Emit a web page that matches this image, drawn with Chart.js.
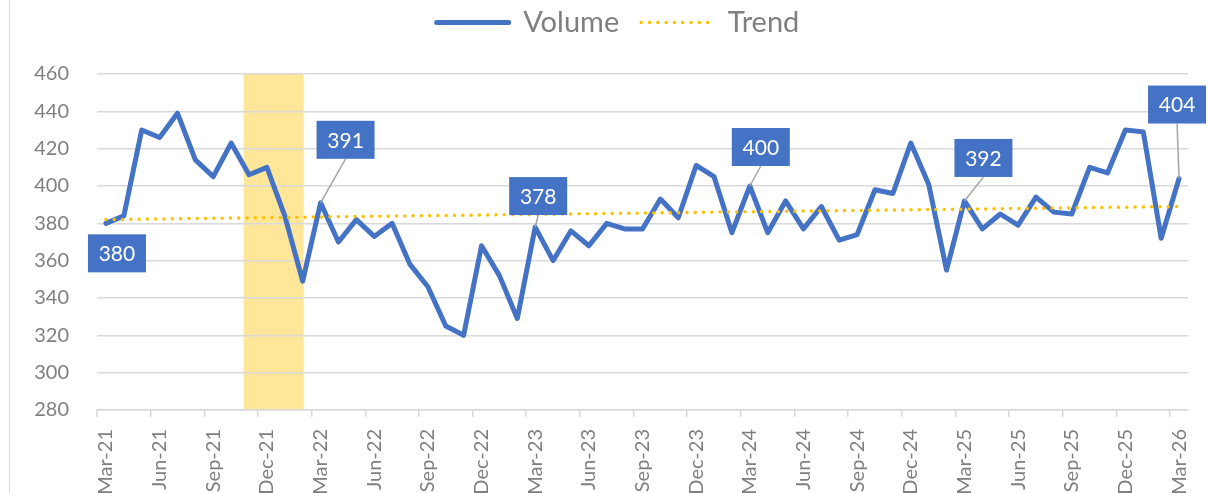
<!DOCTYPE html>
<html lang="en">
<head>
    <meta charset="UTF-8">
    <title>Volume vs Trend</title>
    <script src="https://cdn.jsdelivr.net/npm/chart.js"></script>
    <style>
        body { margin: 0; background: #fff; }
        #wrap { position: relative; width: 1209px; height: 493px; overflow: hidden; }
        /* thin frame line on the left, like the original chart border */
        #edge { position: absolute; left: 9px; top: 0; width: 1px; height: 493px; background: #d9d9d9; }
    </style>
</head>
<body>
    <div id="wrap">
        <div id="edge"></div>
        <canvas id="volChart" width="1209" height="493"></canvas>
    </div>

    <script>
        // monthly categories
        const months = [
            'Mar-21', 'Apr-21', 'May-21', 'Jun-21', 'Jul-21', 'Aug-21', 'Sep-21', 'Oct-21', 'Nov-21', 'Dec-21',
            'Jan-22', 'Feb-22', 'Mar-22', 'Apr-22', 'May-22', 'Jun-22', 'Jul-22', 'Aug-22', 'Sep-22', 'Oct-22',
            'Nov-22', 'Dec-22', 'Jan-23', 'Feb-23', 'Mar-23', 'Apr-23', 'May-23', 'Jun-23', 'Jul-23', 'Aug-23',
            'Sep-23', 'Oct-23', 'Nov-23', 'Dec-23', 'Jan-24', 'Feb-24', 'Mar-24', 'Apr-24', 'May-24', 'Jun-24',
            'Jul-24', 'Aug-24', 'Sep-24', 'Oct-24', 'Nov-24', 'Dec-24', 'Jan-25', 'Feb-25', 'Mar-25', 'Apr-25',
            'May-25', 'Jun-25', 'Jul-25', 'Aug-25', 'Sep-25', 'Oct-25', 'Nov-25', 'Dec-25', 'Jan-26', 'Feb-26',
            'Mar-26'
        ];

        const volume = [
            380, 384, 430, 426, 439, 414, 405, 423, 406, 410,
            384, 349, 391, 370, 382, 373, 380, 358, 346, 325,
            320, 368, 352, 329, 378, 360, 376, 368, 380, 377,
            377, 393, 383, 411, 405, 375, 400, 375, 392, 377,
            389, 371, 374, 398, 396, 423, 401, 355, 392, 377,
            385, 379, 394, 386, 385, 410, 407, 430, 429, 372,
            404
        ];

        // trend line end points
        const trendPoints = [
            { x: 'Mar-21', y: 382 },
            { x: 'Mar-26', y: 389 }
        ];

        // y axis
        const yMin = 280, yMax = 460, yStep = 20;

        // shaded period, in month index units
        const highlightRange = [7.7, 11.05];

        // months that carry a value callout
        const calloutMonths = ['Mar-21', 'Mar-22', 'Mar-23', 'Mar-24', 'Mar-25', 'Mar-26'];

        const BLUE = '#4472C4';
        const GOLD = '#FFC000';
        const GREY = '#7F7F7F';
        const GRID = '#D9D9D9';
        const FONT = 'Lato';

        // callout box offsets from the point (box centre), px
        const calloutOffsets = {
            'Mar-21': [11, 30],
            'Mar-22': [25, -63],
            'Mar-23': [3, -31],
            'Mar-24': [11, -39],
            'Mar-25': [19, -43],
            'Mar-26': [-2, -74]
        };

        const highlightPlugin = {
            id: 'highlight',
            beforeDraw(chart) {
                const { ctx, chartArea, scales } = chart;
                const x0 = scales.x.getPixelForValue(highlightRange[0]);
                const x1 = scales.x.getPixelForValue(highlightRange[1]);
                ctx.save();
                ctx.fillStyle = '#FFE699';
                ctx.fillRect(x0, chartArea.top, x1 - x0, chartArea.bottom - chartArea.top);
                ctx.restore();
            }
        };

        const calloutPlugin = {
            id: 'callouts',
            afterDatasetsDraw(chart) {
                const ctx = chart.ctx;
                const meta = chart.getDatasetMeta(0);
                const boxW = 58, boxH = 38;
                ctx.save();
                calloutMonths.forEach(m => {
                    const i = months.indexOf(m);
                    const pt = meta.data[i];
                    const off = calloutOffsets[m];
                    const cx = pt.x + off[0];
                    const cy = pt.y + off[1];
                    if (off[1] < 0) {
                        ctx.strokeStyle = '#A6A6A6';
                        ctx.lineWidth = 1.5;
                        ctx.beginPath();
                        ctx.moveTo(pt.x, pt.y);
                        ctx.lineTo(cx, cy + boxH / 2);
                        ctx.stroke();
                    }
                    ctx.fillStyle = BLUE;
                    ctx.fillRect(cx - boxW / 2, cy - boxH / 2, boxW, boxH);
                    ctx.fillStyle = '#FFFFFF';
                    ctx.font = '21px ' + FONT;
                    ctx.textAlign = 'center';
                    ctx.textBaseline = 'middle';
                    ctx.fillText(String(volume[i]), cx, cy + 1);
                });
                ctx.restore();
            }
        };

        // legend: fixed height so the plot starts where the original does,
        // and nudged right to sit where the original legend sits
        const legendTweak = {
            id: 'legendTweak',
            afterInit(chart) {
                const lg = chart.legend;
                const fit = lg.fit;
                lg.fit = function () {
                    fit.call(this);
                    this.height = 88;
                };
            },
            afterLayout(chart) {
                chart.legend.left = 48;
            }
        };

        const ctx = document.getElementById('volChart').getContext('2d');
        const volChart = new Chart(ctx, {
            type: 'line',
            data: {
                labels: months,
                datasets: [
                    {
                        label: 'Volume',
                        data: volume,
                        borderColor: BLUE,
                        backgroundColor: BLUE,
                        borderWidth: 5,
                        borderJoinStyle: 'round',
                        borderCapStyle: 'round',
                        pointRadius: 0,
                        tension: 0,
                        order: 2
                    },
                    {
                        label: 'Trend',
                        data: trendPoints,
                        borderColor: GOLD,
                        backgroundColor: GOLD,
                        borderWidth: 3.5,
                        borderDash: [0, 8.3],
                        borderCapStyle: 'round',
                        pointRadius: 0,
                        tension: 0,
                        order: 1
                    }
                ]
            },
            options: {
                responsive: false,
                animation: false,
                devicePixelRatio: 1,
                layout: {
                    padding: { left: 0, right: 21, top: -14, bottom: 0 }
                },
                scales: {
                    x: {
                        offset: true,
                        grid: {
                            offset: true,
                            drawOnChartArea: false,
                            drawTicks: true,
                            tickLength: 7,
                            lineWidth: 1.5,
                            color: c => (c.index % 3 === 0 ? GRID : 'rgba(0,0,0,0)')
                        },
                        border: { color: GRID, width: 1.5 },
                        ticks: {
                            autoSkip: false,
                            minRotation: 90,
                            maxRotation: 90,
                            padding: 12,
                            color: GREY,
                            font: { family: FONT, size: 20 },
                            callback: (v, i) => (i % 3 === 0 ? months[i] : '')
                        },
                        afterFit: s => {
                            s.height = 83;
                            s.paddingLeft = 0;
                            s.paddingRight = 0;
                        }
                    },
                    y: {
                        min: yMin,
                        max: yMax,
                        grid: { color: GRID, lineWidth: 1.5, drawTicks: false },
                        border: { display: false },
                        ticks: {
                            stepSize: yStep,
                            padding: 28,
                            color: GREY,
                            font: { family: FONT, size: 20 }
                        },
                        afterFit: s => { s.width = 97; }
                    }
                },
                plugins: {
                    legend: {
                        position: 'top',
                        labels: {
                            usePointStyle: true,
                            pointStyle: 'line',
                            pointStyleWidth: 72,
                            padding: 22,
                            color: GREY,
                            font: { family: FONT, size: 29 },
                            sort: (a, b) => a.datasetIndex - b.datasetIndex,
                            generateLabels: chart => Chart.defaults.plugins.legend.labels.generateLabels(chart).map(item => {
                                const ds = chart.data.datasets[item.datasetIndex];
                                item.lineDash = ds.borderDash || [];
                                item.lineCap = ds.borderCapStyle;
                                item.lineWidth = ds.borderWidth;
                                return item;
                            })
                        }
                    },
                    tooltip: { enabled: false }
                }
            },
            plugins: [highlightPlugin, calloutPlugin, legendTweak]
        });
    </script>
</body>
</html>
